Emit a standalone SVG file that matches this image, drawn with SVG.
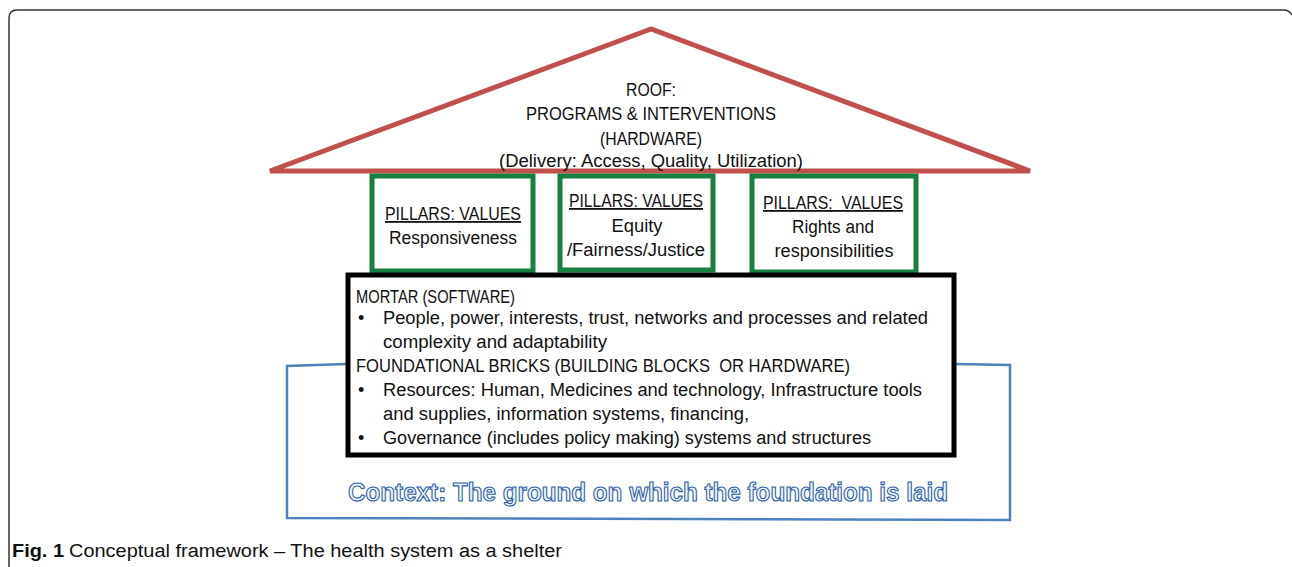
<svg xmlns="http://www.w3.org/2000/svg" width="1292" height="567" viewBox="0 0 1292 567">
<style>
.t{font-family:"Liberation Sans","Open Sans",sans-serif;font-size:18px;fill:#111;white-space:pre}
.c{text-anchor:middle}
.u{text-decoration:underline}
.pillar{fill:#fff;stroke:#15803f;stroke-width:5}
.ctx{font-family:"Liberation Sans",sans-serif;font-weight:bold;font-size:25px;fill:#eef3fa;stroke:#2f5fa6;stroke-width:1.1;text-anchor:middle}
</style>
<rect width="1292" height="567" fill="#fff"/>
<path d="M9,567 V18 Q9,10 17,10 H1284 Q1289,10 1292,15" fill="none" stroke="#333" stroke-width="1.5"/>
<g id="connectors">
<path d="M346,364 L287,366 L287,518 L1010,520 L1010,365 L955,364" fill="none" stroke="#4f81bd" stroke-width="2.5"/>
</g>
<g id="roof">
<polygon points="651,29 270,171 1030,171" fill="#fff" stroke="#c0504d" stroke-width="5" stroke-linejoin="miter"/>
<text class="t c" x="651" y="96" textLength="50" lengthAdjust="spacingAndGlyphs">ROOF:</text>
<text class="t c" x="651" y="120" textLength="250" lengthAdjust="spacingAndGlyphs">PROGRAMS &amp; INTERVENTIONS</text>
<text class="t c" x="651" y="145" textLength="102" lengthAdjust="spacingAndGlyphs">(HARDWARE)</text>
<text class="t c" x="651" y="167" textLength="304" lengthAdjust="spacingAndGlyphs">(Delivery: Access, Quality, Utilization)</text>
</g>
<g id="pillar1">
<rect class="pillar" x="372" y="176" width="161" height="95"/>
<text class="t c u" x="453" y="220" textLength="136" lengthAdjust="spacingAndGlyphs">PILLARS: VALUES</text>
<text class="t c" x="453" y="244" textLength="128" lengthAdjust="spacingAndGlyphs">Responsiveness</text>
</g>
<g id="pillar2">
<rect class="pillar" x="560" y="176" width="153" height="94"/>
<text class="t c u" x="636" y="207" textLength="134" lengthAdjust="spacingAndGlyphs">PILLARS: VALUES</text>
<text class="t c" x="637" y="232" textLength="51" lengthAdjust="spacingAndGlyphs">Equity</text>
<text class="t c" x="636" y="256" textLength="138" lengthAdjust="spacingAndGlyphs">/Fairness/Justice</text>
</g>
<g id="pillar3">
<rect class="pillar" x="752" y="176" width="164" height="96"/>
<text class="t c u" x="833" y="209" textLength="140" lengthAdjust="spacingAndGlyphs">PILLARS:  VALUES</text>
<text class="t c" x="833" y="233" textLength="82" lengthAdjust="spacingAndGlyphs">Rights and</text>
<text class="t c" x="834" y="257" textLength="119" lengthAdjust="spacingAndGlyphs">responsibilities</text>
</g>
<g id="foundation">
<rect x="348" y="275" width="606" height="180" fill="#fff" stroke="#000" stroke-width="5"/>
<text class="t" x="356" y="303" textLength="159" lengthAdjust="spacingAndGlyphs">MORTAR (SOFTWARE)</text>
<text class="t" x="358" y="324">•</text>
<text class="t" x="383" y="324" textLength="545" lengthAdjust="spacingAndGlyphs">People, power, interests, trust, networks and processes and related</text>
<text class="t" x="383" y="348" textLength="224" lengthAdjust="spacingAndGlyphs">complexity and adaptability</text>
<text class="t" x="356" y="372" textLength="494" lengthAdjust="spacingAndGlyphs">FOUNDATIONAL BRICKS (BUILDING BLOCKS  OR HARDWARE)</text>
<text class="t" x="358" y="396">•</text>
<text class="t" x="383" y="396" textLength="539" lengthAdjust="spacingAndGlyphs">Resources: Human, Medicines and technology, Infrastructure tools</text>
<text class="t" x="383" y="420" textLength="366" lengthAdjust="spacingAndGlyphs">and supplies, information systems, financing,</text>
<text class="t" x="358" y="444">•</text>
<text class="t" x="383" y="444" textLength="488" lengthAdjust="spacingAndGlyphs">Governance (includes policy making) systems and structures</text>
</g>
<g id="context">
<text class="ctx" x="648" y="501" textLength="600" lengthAdjust="spacingAndGlyphs">Context: The ground on which the foundation is laid</text>
</g>
<g id="caption">
<text class="t" x="12" y="557" font-weight="bold" textLength="52" lengthAdjust="spacingAndGlyphs">Fig. 1</text>
<text class="t" x="69" y="557" textLength="493" lengthAdjust="spacingAndGlyphs">Conceptual framework – The health system as a shelter</text>
</g>
</svg>
